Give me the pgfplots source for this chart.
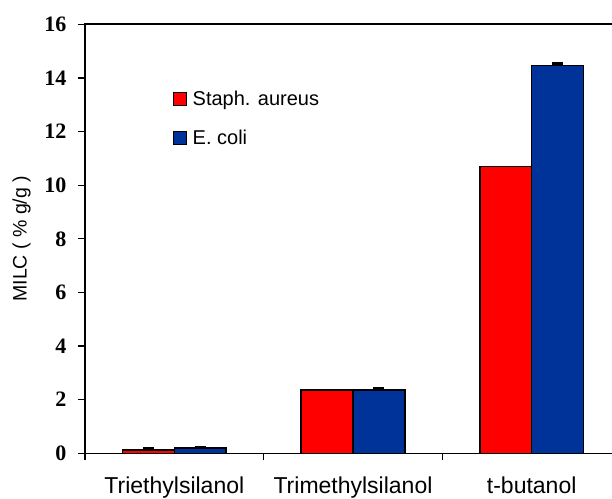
\documentclass[border=0pt]{standalone}
\usepackage{pgfplots}
\pgfplotsset{compat=1.18}
\usepackage{fontspec}
\setmainfont{Liberation Sans}
\newfontfamily\tnr{Liberation Serif}
\definecolor{barred}{RGB}{255,0,0}
\definecolor{barblue}{RGB}{0,51,153}
\begin{document}
\begin{tikzpicture}
\path[use as bounding box] (-85bp,-45.7bp) rectangle (527bp,453.3bp);
\begin{axis}[
    at={(0,0)}, anchor=south west,
    scale only axis,
    width=536bp, height=429bp,
    xmin=-0.5, xmax=2.5,
    ymin=0, ymax=16,
    ytick={0,2,...,16},
    xtick={-0.5,0.5,1.5,2.5}, xticklabels={},
    extra x ticks={0,1,2},
    extra x tick labels={Triethylsilanol,Trimethylsilanol,t-butanol},
    extra x tick style={major tick length=0pt},
    xtick pos=bottom, ytick pos=left,
    tick align=outside,
    major tick length=7bp,
    tick style={black, line width=1.2bp},
    axis line style={line width=1.6bp},
    /pgf/number format/assume math mode=true,
    yticklabel style={font=\fontsize{22bp}{26bp}\selectfont\tnr\bfseries, xshift=-8bp},
    xticklabel style={font=\fontsize{23bp}{27bp}\selectfont, yshift=-20bp},
    ylabel={MILC ( \% g/g )},
    ylabel style={font=\fontsize{19.5bp}{23bp}\selectfont, yshift=7bp},
    ybar, bar width=0.29,
    legend image code/.code={\draw[#1, line width=1.2bp] (0bp,-6.5bp) rectangle (13bp,6.5bp);
        \path[draw=none, fill=none] (17bp,0bp) circle (0.01bp);},
    legend style={draw=none, fill=none, at={(0.164,0.85)}, anchor=north west,
        font=\fontsize{20bp}{24bp}\selectfont, row sep=19bp, inner sep=0pt},
    legend cell align=left,
]
\addplot[fill=barred, draw=black, line width=1.6bp, bar shift=-0.145]
    coordinates {(0,0.13) (1,2.36) (2,10.69)};
\addlegendentry{Staph. aureus}
\addplot[fill=barblue, draw=black, line width=1.6bp, bar shift=0.145,
    error bars/.cd, y dir=plus, y explicit, error mark=|,
    error bar style={line width=1.2bp},
    error mark options={mark size=5.5bp, line width=3bp}]
    coordinates {(0,0.2) +- (0,0.02) (1,2.37) +- (0,0.05) (2,14.46) +- (0,0.06)};
\addlegendentry{E. coli}
% small error cap on the first red bar only
\addplot[forget plot, fill=barred, draw=black, line width=1.6bp, bar shift=-0.145,
    error bars/.cd, y dir=plus, y explicit, error mark=|,
    error bar style={line width=1.2bp},
    error mark options={mark size=5.5bp, line width=3bp}]
    coordinates {(0,0.13) +- (0,0.06)};
\end{axis}
\end{tikzpicture}
\end{document}
